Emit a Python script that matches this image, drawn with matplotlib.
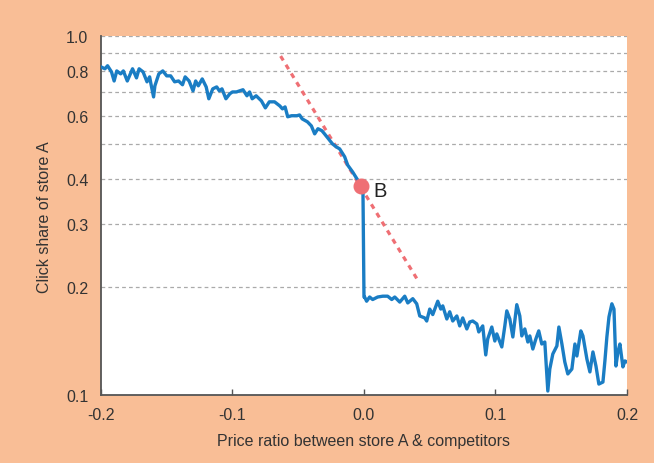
import matplotlib
matplotlib.use("Agg")
import matplotlib.pyplot as plt
from matplotlib.ticker import FixedLocator, NullLocator

plt.rcParams["font.family"] = ["Liberation Sans", "DejaVu Sans"]

BG = "#F9BE96"
BLUE = "#1A7DC4"
RED = "#EF6F74"
INK = "#333333"

# ---------- data ----------
price_ratio = [
    -0.200, -0.197, -0.195, -0.192, -0.190, -0.188, -0.185, -0.183, -0.180, -0.176,
    -0.173, -0.171, -0.168, -0.165, -0.163, -0.162, -0.160, -0.159, -0.156, -0.153,
    -0.150, -0.147, -0.144, -0.141, -0.138, -0.136, -0.133, -0.130, -0.128, -0.126,
    -0.123, -0.120, -0.118, -0.115, -0.112, -0.110, -0.108, -0.105, -0.102, -0.100,
    -0.097, -0.092, -0.089, -0.087, -0.085, -0.082, -0.078, -0.075, -0.072, -0.068,
    -0.064, -0.062, -0.060, -0.058, -0.055, -0.051, -0.049, -0.047, -0.043, -0.040,
    -0.0375, -0.035, -0.032, -0.030, -0.027, -0.024, -0.021, -0.0185, -0.0147, -0.0124,
    -0.0086, -0.0048, -0.0025, -0.0008, 0.0,
    0.0005, 0.002, 0.0043, 0.0066, 0.0104, 0.0143, 0.018, 0.0211, 0.0234, 0.0272,
    0.031, 0.0333, 0.0371, 0.0401, 0.0424, 0.0462, 0.0477, 0.050, 0.0523, 0.0561,
    0.0584, 0.0599, 0.063, 0.0652, 0.0675, 0.0706, 0.0728, 0.0751, 0.0782, 0.0804,
    0.0827, 0.0858, 0.0873, 0.0903, 0.0926, 0.0941, 0.0972, 0.0995, 0.101, 0.1048,
    0.1071, 0.1086, 0.1109, 0.1132, 0.1162, 0.1185, 0.120, 0.1223, 0.1246, 0.1261,
    0.1284, 0.1307, 0.1329, 0.1352, 0.1375, 0.1398, 0.1413, 0.1436, 0.1467, 0.1482,
    0.1505, 0.1527, 0.155, 0.1581, 0.1604, 0.1619, 0.1649, 0.1665, 0.1695, 0.1718,
    0.1741, 0.1764, 0.1786, 0.1817, 0.1832, 0.1847, 0.1863, 0.1885, 0.1901, 0.1916,
    0.1931, 0.1946, 0.1969, 0.1984, 0.200,
]
click_share = [
    0.822, 0.812, 0.828, 0.796, 0.751, 0.801, 0.786, 0.801, 0.751, 0.812,
    0.766, 0.812, 0.796, 0.747, 0.771, 0.737, 0.678, 0.728, 0.786, 0.801,
    0.776, 0.776, 0.747, 0.751, 0.733, 0.771, 0.751, 0.705, 0.751, 0.728,
    0.761, 0.723, 0.670, 0.714, 0.723, 0.705, 0.714, 0.670, 0.692, 0.700,
    0.700, 0.710, 0.683, 0.700, 0.670, 0.683, 0.661, 0.632, 0.657, 0.657,
    0.640, 0.628, 0.636, 0.597, 0.601, 0.601, 0.604, 0.589, 0.578, 0.563,
    0.535, 0.553, 0.546, 0.535, 0.518, 0.502, 0.492, 0.486, 0.462, 0.438,
    0.419, 0.398, 0.383, 0.380, 0.188,
    0.188, 0.183, 0.188, 0.185, 0.188, 0.189, 0.189, 0.185, 0.188, 0.182,
    0.189, 0.181, 0.186, 0.180, 0.1665, 0.1644, 0.1612, 0.174, 0.168, 0.183,
    0.174, 0.1776, 0.1633, 0.171, 0.1612, 0.1665, 0.1562, 0.1644, 0.1532, 0.1602,
    0.1612, 0.1582, 0.1503, 0.1562, 0.1297, 0.1437, 0.1551, 0.1418, 0.1484, 0.1365,
    0.1562, 0.172, 0.1633, 0.1455, 0.179, 0.1665, 0.1465, 0.1532, 0.1409, 0.1465,
    0.1347, 0.1437, 0.1513, 0.1391, 0.1409, 0.1029, 0.1185, 0.1305, 0.1374, 0.1551,
    0.1391, 0.124, 0.1148, 0.1185, 0.1391, 0.1288, 0.1513, 0.1465, 0.1264, 0.1163,
    0.1322, 0.1208, 0.1076, 0.109, 0.1248, 0.1455, 0.1655, 0.180, 0.174, 0.1208,
    0.1322, 0.1391, 0.1201, 0.1248, 0.124,
]

# tangent at the kink (point B)
tangent_x = [-0.0634, 0.0419]
tangent_y = [0.881, 0.2066]
point_b = (-0.0025, 0.383)

x_ticks = [-0.2, -0.1, 0.0, 0.1, 0.2]
x_ticklabels = ["-0.2", "-0.1", "0.0", "0.1", "0.2"]
y_ticks = [0.1, 0.2, 0.3, 0.4, 0.6, 0.8, 1.0]
y_ticklabels = ["0.1", "0.2", "0.3", "0.4", "0.6", "0.8", "1.0"]
y_grid = [0.2, 0.3, 0.4, 0.5, 0.6, 0.7, 0.8, 0.9, 1.0]

fig = plt.figure(figsize=(6.54, 4.64), dpi=100, facecolor=BG)
ax = fig.add_axes([0.1544, 0.1455, 0.8043, 0.7741])
ax.set_facecolor("white")

for g in y_grid:
    ax.axhline(g, color="#AAAAAA", linewidth=0.9, linestyle=(0, (3, 2.5)), zorder=1)

ax.plot(tangent_x, tangent_y, color=RED, linewidth=2.3,
        linestyle=(0, (1.6, 1.6)), zorder=2)
ax.plot(price_ratio, click_share, color=BLUE, linewidth=2.4, zorder=3,
        solid_joinstyle="round")
ax.plot(*point_b, "o", color=RED, markersize=10.5, zorder=4)
ax.text(0.0075, 0.372, "B", fontsize=14.5, color="#222222", ha="left", va="center")

ax.set_yscale("log")
ax.set_xlim(-0.2, 0.2)
ax.set_ylim(0.1, 1.0)
ax.yaxis.set_major_locator(FixedLocator(y_ticks))
ax.yaxis.set_minor_locator(NullLocator())
ax.set_yticklabels(y_ticklabels)
ax.set_xticks(x_ticks)
ax.set_xticklabels(x_ticklabels)

ax.tick_params(axis="y", length=0, pad=9, labelsize=11.5, labelcolor=INK)
ax.tick_params(axis="x", direction="in", length=4, width=1, color="#555555",
               pad=8, labelsize=11.5, labelcolor=INK)

for side in ("top", "right"):
    ax.spines[side].set_visible(False)
for side in ("left", "bottom"):
    ax.spines[side].set_color("#555555")
    ax.spines[side].set_linewidth(1.3)

ax.set_xlabel("Price ratio between store A & competitors", fontsize=11.5,
              color=INK, labelpad=8)
ax.set_ylabel("Click share of store A", fontsize=11.5, color=INK, labelpad=10)

fig.savefig("out.png", dpi=100, facecolor=BG)
